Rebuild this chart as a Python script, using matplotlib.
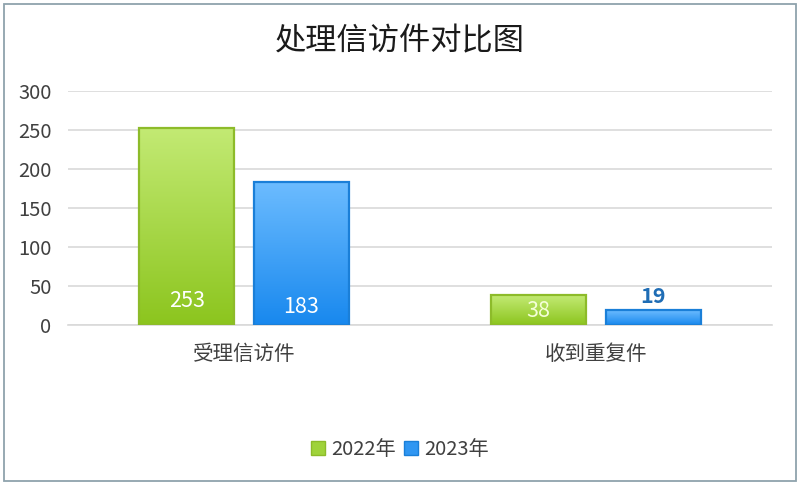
import matplotlib
matplotlib.use("Agg")
import matplotlib.pyplot as plt
import numpy as np
from matplotlib.colors import LinearSegmentedColormap
from matplotlib.patches import Rectangle

plt.rcParams['font.family'] = ['Noto Sans CJK SC', 'DejaVu Sans']

# data
categories = ['受理信访件', '收到重复件']
series_names = ['2022年', '2023年']
vals_2022 = [253, 38]
vals_2023 = [183, 19]

fig = plt.figure(figsize=(8, 4.84), dpi=100)
ax = fig.add_axes([0.085, 0.3285, 0.88, 0.4835])

x = np.arange(len(categories))
w = 0.27
off = 0.163

green_cm = LinearSegmentedColormap.from_list('g', ['#8cc51e', '#c3ea74'])
blue_cm = LinearSegmentedColormap.from_list('b', ['#1888ee', '#6cbcff'])

bars1 = ax.bar(x - off, vals_2022, w, facecolor='none', edgecolor='#8dbb2a', linewidth=1.6, zorder=3, label=series_names[0])
bars2 = ax.bar(x + off, vals_2023, w, facecolor='none', edgecolor='#1a7fd8', linewidth=1.6, zorder=3, label=series_names[1])

grad = np.linspace(0, 1, 256).reshape(-1, 1)
for bars, cm in [(bars1, green_cm), (bars2, blue_cm)]:
    for b in bars:
        x0, y0 = b.get_x(), b.get_y()
        bw, bh = b.get_width(), b.get_height()
        im = ax.imshow(grad, cmap=cm, origin='lower', aspect='auto',
                       extent=[x0, x0 + bw, y0, y0 + bh], zorder=2)
        im.set_clip_path(b)

ax.set_xlim(-0.5, 1.5)
ax.set_ylim(0, 300)
ax.set_yticks(range(0, 301, 50))
ax.set_xticks(x)
ax.set_xticklabels(categories)
ax.yaxis.grid(True, color='#d9d9d9', linewidth=1.2, zorder=0)
ax.set_axisbelow(True)
for s in ['top', 'right', 'left']:
    ax.spines[s].set_visible(False)
ax.spines['bottom'].set_color('#d9d9d9')
ax.spines['bottom'].set_linewidth(1.2)
ax.tick_params(axis='both', length=0, labelsize=14.5, colors='#404040')
ax.tick_params(axis='x', labelsize=14.8, pad=13)
ax.tick_params(axis='y', pad=12)

# value labels
ax.annotate(str(vals_2022[0]), (x[0] - off, 0), xytext=(0, 17), textcoords='offset points',
            ha='center', va='center', fontsize=15.5, color='white', zorder=5)
ax.annotate(str(vals_2023[0]), (x[0] + off, 0), xytext=(0, 13), textcoords='offset points',
            ha='center', va='center', fontsize=15.5, color='white', zorder=5)
ax.annotate(str(vals_2022[1]), (x[1] - off, 0), xytext=(0, 10), textcoords='offset points',
            ha='center', va='center', fontsize=15.5, color='#f4ffd8', zorder=5)
ax.annotate(str(vals_2023[1]), (x[1] + off, vals_2023[1]), xytext=(0, 10), textcoords='offset points',
            ha='center', va='center', fontsize=15.5, color='#1f6db5', fontweight='bold', zorder=5)

fig.text(0.5, 0.915, '处理信访件对比图', ha='center', va='center', fontsize=22.5, color='#1a1a1a')

handles = [Rectangle((0, 0), 1, 1, facecolor='#9fd33a', edgecolor='#8dbb2a'),
           Rectangle((0, 0), 1, 1, facecolor='#2f96f2', edgecolor='#1a7fd8')]
fig.legend(handles, series_names, loc='center', bbox_to_anchor=(0.5, 0.072), ncol=2,
           frameon=False, fontsize=14.5, handlelength=0.7, handleheight=0.7,
           handletextpad=0.3, columnspacing=0.4, labelcolor='#404040')

fig.add_artist(Rectangle((0.005, 0.006), 0.99, 0.986, transform=fig.transFigure,
                         fill=False, edgecolor='#8fa3ad', linewidth=1.3))

fig.savefig('out.png', dpi=100)
